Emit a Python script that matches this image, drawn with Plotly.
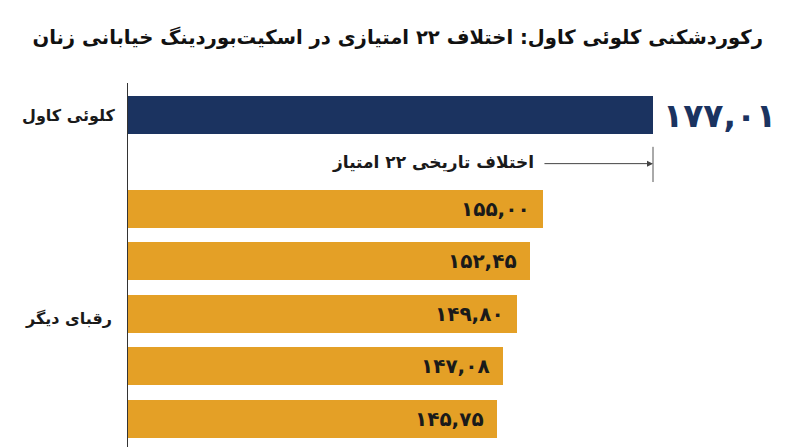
import plotly.graph_objects as go

# ---- data ----
title_text = "رکوردشکنی کلوئی کاول: اختلاف ۲۲ امتیازی در اسکیت\u200cبوردینگ خیابانی زنان"
leader_name = "کلوئی کاول"
others_name = "رقبای دیگر"
leader_score = 177.01
other_scores = [155.00, 152.45, 149.80, 147.08, 145.75]
gap_label = "اختلاف تاریخی ۲۲ امتیاز"

NAVY = "#1B3360"
ORANGE = "#E4A026"
FONT = "DejaVu Sans"

def fa_num(v):
    s = f"{v:.2f}"
    digits = "۰۱۲۳۴۵۶۷۸۹"
    return "".join(digits[int(c)] if c.isdigit() else "," for c in s)

# row positions (reversed axis)
other_pos = [0, 1, 2, 3, 4]
leader_pos = -1.78

fig = go.Figure()
fig.add_trace(go.Bar(
    x=[leader_score], y=[leader_pos], orientation="h",
    marker=dict(color=NAVY, line=dict(width=0)), width=0.72,
    hoverinfo="skip", showlegend=False,
))
fig.add_trace(go.Bar(
    x=other_scores, y=other_pos, orientation="h",
    marker=dict(color=ORANGE, line=dict(width=0)), width=0.72,
    hoverinfo="skip", showlegend=False,
))

ann = []
ann.append(dict(x=leader_score, y=leader_pos, xref="x", yref="y",
                text=fa_num(leader_score), showarrow=False,
                xanchor="left", yanchor="middle", xshift=8,
                font=dict(family=FONT, size=33, color=NAVY, weight="bold")))
for v, p in zip(other_scores, other_pos):
    ann.append(dict(x=v, y=p, xref="x", yref="y", text=fa_num(v),
                    showarrow=False, xanchor="right", yanchor="middle",
                    xshift=-11,
                    font=dict(family=FONT, size=20, color="#1a1a1a", weight="bold")))
ann.append(dict(x=leader_score, y=-0.86, ax=other_scores[0], ay=-0.86,
                xref="x", yref="y", axref="x", ayref="y", text="",
                showarrow=True, arrowhead=2, arrowsize=1.2, arrowwidth=1,
                arrowcolor="#444444", standoff=0))
ann.append(dict(x=other_scores[0], y=-0.9, xref="x", yref="y", text=gap_label,
                showarrow=False, xanchor="right", yanchor="middle", xshift=-7,
                font=dict(family=FONT, size=17, color="#1a1a1a", weight="bold")))
ann.append(dict(x=0, y=leader_pos, xref="paper", yref="y", text=leader_name,
                showarrow=False, xanchor="right", yanchor="middle", xshift=-11,
                font=dict(family=FONT, size=16, color="#1a1a1a", weight="bold")))
ann.append(dict(x=0, y=2.08, xref="paper", yref="y", text=others_name,
                showarrow=False, xanchor="right", yanchor="middle", xshift=-14,
                font=dict(family=FONT, size=16, color="#1a1a1a", weight="bold")))

fig.add_shape(type="line", xref="x", yref="y", x0=leader_score, x1=leader_score,
              y0=-1.18, y1=-0.51, line=dict(color="#555555", width=1))

# page body adds an 8px offset; figure sized to fill the rest of the window
fig.update_layout(
    width=792, height=439,
    margin=dict(l=120, r=0, t=75, b=0),
    paper_bgcolor="white", plot_bgcolor="white",
    title=dict(text=title_text, x=755 / 792, xanchor="right", y=1 - 29 / 439,
               yanchor="middle",
               font=dict(family=FONT, size=19.6, color="#111111", weight="bold")),
    xaxis=dict(range=[72.01, 206.41], visible=False, fixedrange=True),
    yaxis=dict(range=[4.537, -2.396], showticklabels=False, showgrid=False,
               zeroline=False, showline=True, linecolor="#333333", linewidth=1,
               ticks=""),
    annotations=ann,
    bargap=0,
)

fig.write_html("out.html")
